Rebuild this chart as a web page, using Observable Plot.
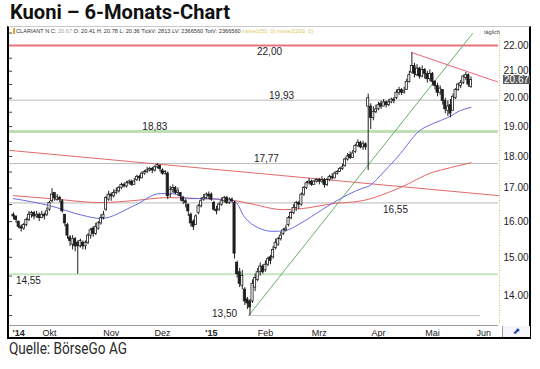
<!DOCTYPE html>
<html><head><meta charset="utf-8">
<script src="https://cdn.jsdelivr.net/npm/d3@7"></script>
<script src="https://cdn.jsdelivr.net/npm/@observablehq/plot@0.6"></script>
<style>
body{margin:0;background:#fff;width:540px;height:369px;position:relative;overflow:hidden;font-family:"Liberation Sans",Arial,sans-serif}
#title{position:absolute;left:10px;top:2.3px;font:700 20.4px/20.4px Roboto,"Open Sans",sans-serif;color:#111;white-space:nowrap;transform-origin:0 0}
#caption{position:absolute;left:9px;top:341px;font:400 16px/16px Roboto,"Open Sans",sans-serif;color:#2a2a2a;white-space:nowrap;transform-origin:0 0}
#frame{position:absolute;left:7px;top:26px;width:520px;height:310px;border-left:2px solid #000;border-right:2px solid #000;border-bottom:2px solid #000;border-top:1px solid #c8c8c8}
#frame svg{position:absolute;left:0;top:0}
#head{position:absolute;left:7px;top:1px;font:11px/11px "Liberation Sans",Arial,sans-serif;color:#333;white-space:nowrap;transform-origin:0 0}
#sq{position:absolute;left:4px;top:1px;width:2px;height:6px;background:#f0a030}
#daily{position:absolute;left:475px;top:2px;font:11px/11px "Liberation Sans",Arial,sans-serif;color:#444;white-space:nowrap;transform:scale(0.5);transform-origin:0 0}
#last{position:absolute;left:494px;width:26px;height:9px;background:#5b5b5b;color:#fff;font:10px/9px "Liberation Sans",Arial,sans-serif;text-align:left;padding-left:1px}
#icon{position:absolute;left:493px;top:299px;width:27px;height:11px;border-left:1px solid #9a9a9a;background:#f4f6fa;color:#1c3fa8;font:9px/11px "DejaVu Sans",sans-serif;text-align:center}
</style></head>
<body>
<div id="title">Kuoni – 6-Monats-Chart</div>
<div id="frame"></div>
<div id="caption">Quelle: BörseGo AG</div>
<script>
// ---- data (trading-day index = position in arrays) ----
const opens = [
16.2,16.15,16.0,15.85,15.8,15.9,16.05,16.2,16.25,16.15,
16.2,16.1,16.2,16.2,16.35,16.6,16.85,16.65,16.7,16.6,
16.2,15.9,15.55,15.35,15.5,15.4,15.3,15.4,15.3,15.4,
15.6,15.8,15.65,15.8,15.95,16.1,16.35,16.65,16.8,16.75,
16.85,16.9,17.0,17.1,17.05,17.15,17.2,17.1,17.25,17.35,
17.3,17.45,17.5,17.55,17.6,17.55,17.65,17.7,17.55,17.45,
17.45,16.8,16.95,17.0,16.85,16.85,16.7,16.6,16.5,16.2,
16.0,15.9,16.25,16.45,16.65,16.7,16.8,16.8,16.55,16.35,
16.35,16.5,16.6,16.7,16.55,16.65,16.55,14.85,14.6,14.25,
14.15,13.9,13.85,13.85,14.2,14.4,14.6,14.75,14.65,14.8,
15.0,15.0,15.25,15.35,15.5,15.65,15.75,15.9,16.1,16.25,
16.4,16.55,16.5,16.8,17.0,17.15,17.2,17.1,17.2,17.25,
17.2,17.25,17.1,17.25,17.35,17.3,17.45,17.5,17.6,17.7,
17.9,18.05,17.95,18.15,18.35,18.45,18.3,18.4,19.7,19.7,
19.3,19.5,19.6,19.8,19.7,19.85,19.75,19.85,19.95,20.0,
20.2,20.3,20.2,20.3,20.6,20.95,21.2,20.85,21.1,20.8,
21.05,20.9,20.7,20.9,20.6,20.45,20.2,20.3,19.9,19.55,
19.75,19.55,20.0,20.3,20.45,20.55,20.75,20.85,20.41];
const highs = [
16.25,16.15,16.0,15.9,15.95,16.1,16.3,16.3,16.3,16.3,
16.25,16.3,16.25,16.4,16.6,16.98,16.85,16.8,16.75,16.65,
16.2,15.95,15.6,15.6,15.55,15.45,15.5,15.45,15.45,15.65,
15.8,15.85,15.95,16.0,16.2,16.3,16.75,16.9,16.85,16.95,
17.0,17.05,17.15,17.15,17.2,17.25,17.25,17.3,17.4,17.4,
17.5,17.55,17.65,17.65,17.65,17.7,17.77,17.72,17.6,17.55,
17.5,17.05,17.1,17.05,17.0,16.85,16.75,16.65,16.5,16.25,
16.05,16.2,16.5,16.7,16.8,16.85,16.88,16.85,16.6,16.45,
16.55,16.7,16.75,16.75,16.7,16.7,16.6,14.9,14.7,14.65,
14.2,13.95,13.9,14.4,14.55,14.7,14.85,14.8,14.9,15.0,
15.05,15.3,15.5,15.55,15.7,15.8,15.9,16.15,16.3,16.5,
16.6,16.6,16.85,17.05,17.2,17.3,17.25,17.25,17.3,17.3,
17.35,17.3,17.3,17.4,17.45,17.5,17.55,17.65,17.75,17.95,
18.1,18.15,18.2,18.4,18.55,18.5,18.5,18.45,20.15,19.8,
19.7,19.75,19.85,19.9,19.95,19.9,19.95,20.0,20.02,20.3,
20.4,20.35,20.4,20.7,21.0,21.72,21.3,21.25,21.15,21.2,
21.1,21.0,21.05,20.95,20.65,20.55,20.45,20.3,20.0,19.9,
19.95,20.15,20.35,20.55,20.65,20.85,20.95,20.9,20.78];
const lows = [
16.05,15.95,15.8,15.7,15.75,15.85,16.0,16.1,16.05,16.1,
16.0,16.1,16.05,16.15,16.3,16.55,16.6,16.6,16.55,16.25,
15.85,15.5,15.3,15.2,15.15,14.55,15.25,15.2,15.2,15.35,
15.5,15.55,15.6,15.75,15.9,16.05,16.3,16.6,16.6,16.7,
16.8,16.85,16.95,17.0,17.0,17.1,17.05,17.1,17.2,17.2,
17.3,17.4,17.45,17.5,17.45,17.5,17.6,17.5,17.4,17.4,
16.65,16.7,16.85,16.8,16.75,16.6,16.5,16.4,16.15,15.85,
15.75,15.9,16.2,16.4,16.6,16.65,16.65,16.6,16.3,16.2,
16.3,16.45,16.55,16.5,16.5,16.55,14.95,14.45,14.2,14.15,
13.75,13.65,13.5,13.8,14.1,14.35,14.5,14.55,14.6,14.75,
14.8,14.95,15.2,15.3,15.45,15.6,15.7,15.85,16.05,16.2,
16.3,16.35,16.45,16.75,16.95,17.1,17.05,17.1,17.15,17.1,
17.15,17.0,17.05,17.2,17.25,17.3,17.4,17.5,17.55,17.65,
17.85,17.9,17.95,18.1,18.3,18.25,18.2,18.2,17.55,18.9,
19.2,19.45,19.55,19.6,19.7,19.65,19.7,19.8,19.8,19.95,
20.1,20.1,20.15,20.3,20.55,20.9,20.75,20.8,20.7,20.75,
20.7,20.55,20.6,20.45,20.3,20.05,20.1,19.75,19.45,19.35,
19.3,19.55,19.95,20.25,20.35,20.5,20.65,20.4,20.36];
const closes = [
16.15,16.05,15.85,15.8,15.9,16.05,16.2,16.25,16.15,16.2,
16.1,16.2,16.15,16.3,16.55,16.8,16.7,16.72,16.65,16.3,
15.95,15.6,15.45,15.5,15.3,15.3,15.45,15.3,15.4,15.6,
15.75,15.65,15.85,15.95,16.1,16.2,16.7,16.8,16.75,16.85,
16.9,17.0,17.1,17.05,17.15,17.2,17.1,17.2,17.35,17.3,
17.45,17.5,17.55,17.6,17.55,17.65,17.72,17.6,17.45,17.5,
16.75,16.95,17.0,16.85,16.9,16.75,16.6,16.55,16.3,15.95,
15.85,16.15,16.45,16.6,16.7,16.8,16.75,16.65,16.35,16.3,
16.5,16.6,16.7,16.55,16.65,16.6,15.1,14.55,14.3,14.5,
13.85,13.8,13.7,14.3,14.45,14.6,14.75,14.6,14.8,14.95,
14.9,15.2,15.4,15.5,15.6,15.75,15.8,16.1,16.25,16.4,
16.55,16.5,16.8,17.0,17.15,17.2,17.1,17.2,17.25,17.2,
17.25,17.1,17.25,17.35,17.3,17.45,17.5,17.6,17.65,17.9,
18.0,17.95,18.1,18.35,18.45,18.3,18.4,18.3,20.0,19.3,
19.5,19.6,19.75,19.7,19.85,19.75,19.85,19.95,19.9,20.2,
20.3,20.2,20.25,20.6,20.85,21.2,20.9,21.1,20.8,21.05,
20.9,20.7,20.9,20.6,20.45,20.2,20.35,19.9,19.6,19.7,
19.45,20.05,20.3,20.5,20.55,20.8,20.85,20.5,20.67];

// moving averages (index, value)
const ma50Idx = [0,14,27,34,47,57,62,68,75,86,90,95,101,106,111,116,124.5,136,138,144,150.6,157.6,163.4,168.9,173.9,178];
const ma50Val = [16.68,16.47,16.18,16.09,16.47,16.83,16.83,16.68,16.68,16.6,16.12,15.83,15.72,15.75,15.92,16.15,16.56,17.0,17.05,17.5,18.1,18.83,19.11,19.31,19.56,19.67];
const ma200Idx = [0,14.4,34,46.7,60,73,86,92,105,112,124.5,136,150.6,163,170,178];
const ma200Val = [16.77,16.68,16.56,16.62,16.71,16.68,16.62,16.53,16.35,16.38,16.53,16.62,17.02,17.49,17.64,17.80];

// trend lines (index, value) end points
const trendLongIdx = [-1.56,188.7], trendLongVal = [18.2,16.77];
const trendShortIdx = [155,188.3],  trendShortVal = [21.72,20.6];
const trendUpIdx = [91.5,178.6],    trendUpVal = [13.5,22.48];

// horizontal levels
const levelValues = [22.00,19.93,18.83,17.77,16.55,14.55,13.50];
const levelLabels = ["22,00","19,93","18,83","17,77","16,55","14,55","13,50"];

// axes
const yTicks = [14,15,16,17,18,19,20,21,22];
const monthTicks = [2,14,38,58,77,98,119,142,163,183];
const monthLabels = ["'14","Okt","Nov","Dez","'15","Feb","Mrz","Apr","Mai","Jun"];

// ---- layout config ----
const xDom = [-1.56,188.7];
const yDom = [13.26,22.605];
const labelAt = [99.6,104.3,55,98.4,148.6,5.8,82.1];
const labelBelow = [true,false,false,false,true,true,null];
const seg1350 = [91.5,181.7];

const bars = closes.map((c,i)=>({i,o:opens[i],h:highs[i],l:lows[i],c}));
const up = bars.filter(d=>d.c>=d.o), down = bars.filter(d=>d.c<d.o);
const ma50 = ma50Idx.map((x,k)=>({x,y:ma50Val[k]}));
const ma200 = ma200Idx.map((x,k)=>({x,y:ma200Val[k]}));
const tl = (xs,ys)=>xs.map((x,k)=>({x,y:ys[k]}));
const labels = levelValues.map((v,k)=>({v,t:levelLabels[k],x:labelAt[k],b:labelBelow[k]}));
const halfTicks = d3.range(13.5,22.51,0.5);
const font = '"Liberation Sans", Arial, sans-serif';

const plot = Plot.plot({
  width:520,height:310,marginTop:3,marginBottom:12,marginLeft:0,marginRight:31,
  x:{domain:xDom,axis:null},
  y:{type:"log",domain:yDom,axis:null},
  style:{fontFamily:font,fontSize:"10px",background:"transparent",overflow:"visible"},
  marks:[
    Plot.ruleY(halfTicks,{x1:xDom[0],x2:xDom[0]+1.2,stroke:"#444"}),
    Plot.ruleY([levelValues[0]],{stroke:"#f5b9c0",strokeWidth:3}),
    Plot.ruleY([levelValues[0]],{stroke:"#e2707e",strokeWidth:1}),
    Plot.ruleY([levelValues[2]],{stroke:"#bfe0b6",strokeWidth:3}),
    Plot.ruleY([levelValues[5]],{stroke:"#c6e4bf",strokeWidth:2}),
    Plot.ruleY([levelValues[1],levelValues[3],levelValues[4]],{stroke:"#b9b9b9"}),
    Plot.ruleY([levelValues[6]],{x1:seg1350[0],x2:seg1350[1],stroke:"#c4c4c4"}),
    Plot.line(tl(trendLongIdx,trendLongVal),{x:"x",y:"y",stroke:"#e16b6b",strokeWidth:1}),
    Plot.line(tl(trendShortIdx,trendShortVal),{x:"x",y:"y",stroke:"#ee6474",strokeWidth:1}),
    Plot.line(tl(trendUpIdx,trendUpVal),{x:"x",y:"y",stroke:"#62b262",strokeWidth:1,clip:true}),
    Plot.line(ma200,{x:"x",y:"y",stroke:"#e46464",strokeWidth:1,curve:"monotone-x"}),
    Plot.line(ma50,{x:"x",y:"y",stroke:"#6a6ae4",strokeWidth:1,curve:"monotone-x"}),
    Plot.ruleX(bars,{x:"i",y1:"l",y2:"h",stroke:"#1e1e1e",strokeWidth:1}),
    Plot.rect(up,{x1:d=>d.i-0.42,x2:d=>d.i+0.42,y1:"o",y2:"c",fill:"#fff",stroke:"#1e1e1e",strokeWidth:0.8}),
    Plot.rect(down,{x1:d=>d.i-0.42,x2:d=>d.i+0.42,y1:"o",y2:"c",fill:"#1e1e1e",stroke:"#1e1e1e",strokeWidth:0.8}),
    Plot.text(labels.filter(d=>d.b===true),{x:"x",y:"v",text:"t",lineAnchor:"top",dy:2.7,fontSize:10,fill:"#222"}),
    Plot.text(labels.filter(d=>d.b===false),{x:"x",y:"v",text:"t",lineAnchor:"bottom",dy:-1.6,fontSize:10,fill:"#222"}),
    Plot.text(labels.filter(d=>d.b===null),{x:"x",y:"v",text:"t",lineAnchor:"bottom",dy:1,fontSize:10,fill:"#222"}),
    Plot.ruleX([xDom[1]],{stroke:"#d7bf6e",strokeDasharray:"1,1.5",dx:1}),
    Plot.ruleY([yDom[0]],{stroke:"#9a9a9a"}),
    Plot.axisY({anchor:"right",ticks:yTicks,tickFormat:d=>d.toFixed(2),tickSize:0,tickPadding:5,fontSize:10,fill:"#222",label:null}),
    Plot.text(monthTicks.filter((d,k)=>monthLabels[k][0]!=="'"),{x:d=>d,text:d=>monthLabels[monthTicks.indexOf(d)],frameAnchor:"bottom",lineAnchor:"top",dy:4.5,fontSize:9,fill:"#222"}),
    Plot.text(monthTicks.filter((d,k)=>monthLabels[k][0]==="'"),{x:d=>d,text:d=>monthLabels[monthTicks.indexOf(d)],frameAnchor:"bottom",lineAnchor:"top",dy:4.5,fontSize:9,fontWeight:"bold",fill:"#222"})
  ]
});
const frame = document.getElementById("frame");
frame.appendChild(plot);

// header texts
const head = document.createElement("div");
head.id="head";
head.innerHTML='CLARIANT N C: <span style="color:#a0a0a0">20.67</span> O: 20.41 H: 20.78 L: 20.36 TickV: 2813 LV: 2366560 TotV: 2366560 <span style="color:#dcc560">move1(50, 0) move2(200, 0)</span>';
frame.appendChild(head);
const sq=document.createElement("div");sq.id="sq";frame.appendChild(sq);
const daily=document.createElement("div");daily.id="daily";daily.textContent="täglich";frame.appendChild(daily);
const hw = head.getBoundingClientRect().width;
head.style.transform=`scale(${297/hw},0.5)`;

// last price box
const lastVal = closes[closes.length-1];
const ly = plot.scale("y").apply(lastVal);
const last=document.createElement("div");last.id="last";last.textContent=lastVal.toFixed(2);
last.style.top=(ly-4.5)+"px";frame.appendChild(last);
const icon=document.createElement("div");icon.id="icon";icon.textContent="⬈";frame.appendChild(icon);

// fit title & caption widths
const fit=(id,w)=>{const el=document.getElementById(id);const r=el.getBoundingClientRect().width;el.style.transform=`scaleX(${w/r})`;};
fit("title",220);
fit("caption",118);
</script>
</body></html>
